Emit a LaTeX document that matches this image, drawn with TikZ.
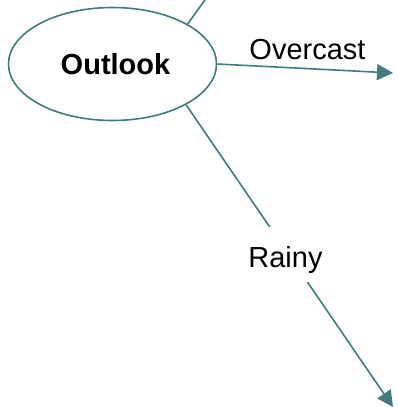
\documentclass[tikz,border=0pt]{standalone}
\usepackage{fontspec}
\setmainfont{Liberation Sans}
\usetikzlibrary{shapes.geometric,arrows.meta}
\definecolor{teal}{RGB}{64,124,124}
\tikzset{
  conn/.style={draw=teal, line width=1.6pt},
  arr/.style={conn, -{Triangle[length=16pt,width=16pt]}},
  lbl/.style={font=\fontsize{29}{30}\selectfont, inner sep=0pt},
  oval/.style={ellipse, draw=teal, line width=1.6pt, minimum width=208pt, minimum height=113pt, inner sep=0pt, font=\bfseries\fontsize{29}{30}\selectfont}
}
\begin{document}
\begin{tikzpicture}[x=1pt,y=-1pt]
\useasboundingbox (0,0) rectangle (397,407);
\clip (0,0) rectangle (397,407);
\node[oval] (e) at (112.5,64) {\hspace*{6pt}Outlook};
\coordinate (top) at (222,-24);
\coordinate (ov) at (393,73);
\coordinate (rt) at (393,407);
\draw[conn] (e.28) -- (top);
\draw[arr] (e.east) -- (ov);
\node[lbl, anchor=base] (ovl) at (307.5,59.5) {Overcast};
\draw[arr] (e.-29) -- (rt);
\node[lbl, anchor=base, fill=white, text height=40pt, text depth=15pt] (rl) at (285.5,267) {Rainy};
\end{tikzpicture}
\end{document}
